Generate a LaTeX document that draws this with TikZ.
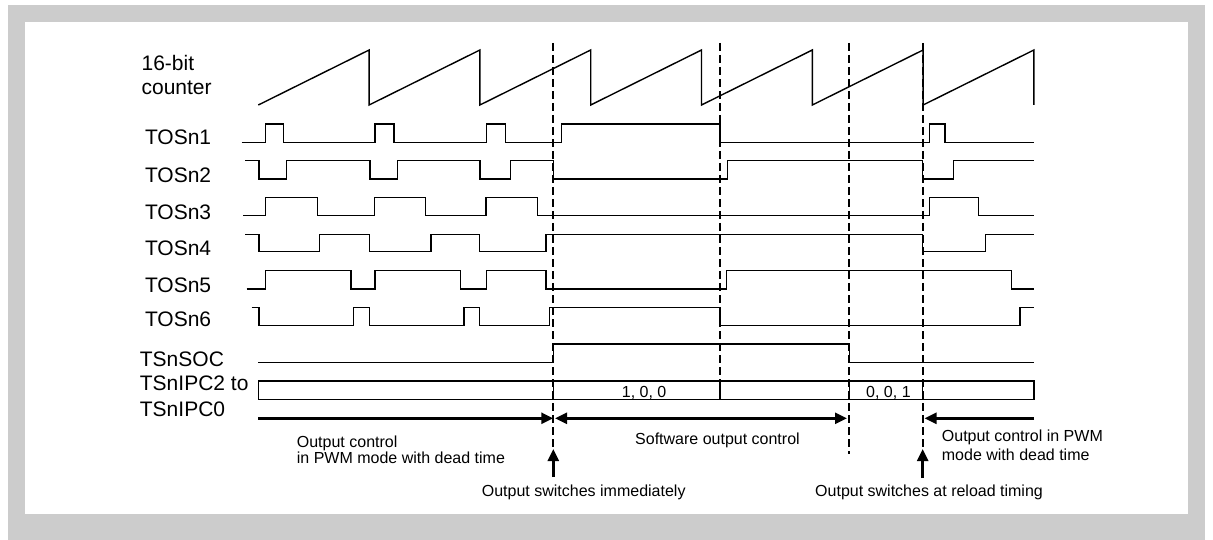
\documentclass[tikz,border=0pt]{standalone}
\usepackage{fontspec}
\setmainfont{Liberation Sans}
\usetikzlibrary{arrows.meta}
\begin{document}
\begin{tikzpicture}[x=1pt,y=-1pt,
  sig/.style={line width=1.4pt, line join=miter},
  lbl/.style={font=\fontsize{21}{25}\selectfont, anchor=base west, inner sep=0pt},
  ann/.style={font=\fontsize{16}{18}\selectfont, anchor=base west, inner sep=0pt},
  vdash/.style={line width=2.3pt, dash pattern=on 8pt off 4pt},
  bigarrow/.style={line width=2.6pt, -{Triangle[length=12pt,width=11pt]}},
  dblarrow/.style={line width=2.6pt, {Triangle[length=12pt,width=11pt]}-{Triangle[length=12pt,width=11pt]}}
]
\useasboundingbox (0,0) rectangle (1213,540);
\fill[gray!40] (8,5) rectangle (1205,540);
\fill[white] (25,22) rectangle (1188,514);

% labels
\node[lbl] (lbit) at (141.4,71) {16-bit};
\node[lbl] (lcnt) at (141.4,95) {counter};
\node[lbl] (l1) at (144.8,145) {TOSn1};
\node[lbl] (l2) at (144.8,183) {TOSn2};
\node[lbl] (l3) at (144.8,219.5) {TOSn3};
\node[lbl] (l4) at (144.8,255.5) {TOSn4};
\node[lbl] (l5) at (144.8,292) {TOSn5};
\node[lbl] (l6) at (144.8,326.5) {TOSn6};
\node[lbl] (lsoc) at (139.7,366) {TSnSOC};
\node[lbl] (lipc) at (139.7,390.3) {TSnIPC2 to};
\node[lbl] (lipc0) at (139.7,416) {TSnIPC0};

% sawtooth
\draw[sig] (258.3,105)
  \foreach \k in {1,...,7} { -- ({258.3+110.8*\k},50) -- ({258.3+110.8*\k},105) };

% TOSn1
\draw[sig] (241.7,142.3) -| (265.7,124) -| (283.3,142.3) -| (375,124) -| (394,142.3)
  -| (486.7,124) -| (505.7,142.3) -| (561.7,124) -| (720,142.3) -| (929.3,124)
  -| (945,142.3) -- (1034,142.3);
% TOSn2
\draw[sig] (245,160.7) -| (259,179) -| (286.7,160.7) -| (370,179) -| (397.7,160.7)
  -| (480,179) -| (510.7,160.7) -| (553.3,179) -| (727.3,160.7) -| (922.7,179)
  -| (953.3,160.7) -- (1034,160.7);
% TOSn3
\draw[sig] (243,215.7) -| (265.7,197.5) -| (317.3,215.7) -| (374.3,197.5) -| (425.7,215.7)
  -| (486,197.5) -| (537.7,215.7) -| (929.3,197.5) -| (978.3,215.7) -- (1034,215.7);
% TOSn4
\draw[sig] (245,234.3) -| (259,251.8) -| (319.3,234.3) -| (369.3,251.8) -| (431,234.3)
  -| (479.3,251.8) -| (546,234.3) -| (922.7,251.8) -| (985.7,234.3) -- (1034,234.3);
% TOSn5
\draw[sig] (246.7,288.8) -| (265.7,270.5) -| (351,288.8) -| (375,270.5) -| (460.7,288.8)
  -| (486.7,270.5) -| (546,288.8) -| (726.7,270.5) -| (1011.7,288.8) -- (1034,288.8);
% TOSn6
\draw[sig] (251.7,307.5) -| (259,325.5) -| (353.3,307.5) -| (369.3,325.5) -| (464,307.5)
  -| (479.3,325.5) -| (549.3,307.5) -| (720,325.5) -| (1020,307.5) -- (1034,307.5);
% TSnSOC
\draw[sig] (258.3,362.3) -| (553.3,344) -| (849.3,362.3) -- (1034,362.3);

% TSnIPC box
\draw[sig] (258.3,381) rectangle (1034,399.3);
\foreach \x in {553.3,720,849.3,922.7} \draw[sig] (\x,381) -- (\x,399.3);
\node[ann] (v100) at (621.7,397.7) {1, 0, 0};
\node[ann] (v001) at (866,397.7) {0, 0, 1};

% dashed switching lines
\coordinate (d1t) at (553.3,43); \coordinate (d1b) at (553.3,448);
\coordinate (d2t) at (720,43);   \coordinate (d2b) at (720,400);
\coordinate (d3t) at (849.3,43); \coordinate (d3b) at (849.3,454);
\coordinate (d4t) at (922.7,43); \coordinate (d4b) at (922.7,448);
\draw[vdash] (d1t) -- (d1b);
\draw[vdash] (d2t) -- (d2b);
\draw[vdash] (d3t) -- (d3b);
\draw[vdash] (d4t) -- (d4b);

% horizontal period arrows
\coordinate (a1s) at (258.3,418.3); \coordinate (a1e) at (553.3,418.3);
\coordinate (a2s) at (555,418.3);   \coordinate (a2e) at (847,418.3);
\coordinate (a3s) at (1034,418.3);  \coordinate (a3e) at (924.5,418.3);
\draw[bigarrow] (a1s) -- (a1e);
\draw[dblarrow] (a2s) -- (a2e);
\draw[bigarrow] (a3s) -- (a3e);

% vertical arrows
\coordinate (u1s) at (553.3,477); \coordinate (u1e) at (553.3,449);
\coordinate (u4s) at (922.7,478); \coordinate (u4e) at (922.7,449);
\draw[bigarrow] (u1s) -- (u1e);
\draw[bigarrow] (u4s) -- (u4e);

% annotations
\node[ann] (t1a) at (296.7,447.2) {Output control};
\node[ann] (t1b) at (296.7,463.9) {in PWM mode with dead time};
\node[ann] (t2) at (635,444.2) {Software output control};
\node[ann] (t3a) at (941.7,441.5) {Output control in PWM};
\node[ann] (t3b) at (941.7,460) {mode with dead time};
\node[ann] (t4) at (481.7,496.5) {Output switches immediately};
\node[ann] (t5) at (815,496.5) {Output switches at reload timing};
\end{tikzpicture}
\end{document}
